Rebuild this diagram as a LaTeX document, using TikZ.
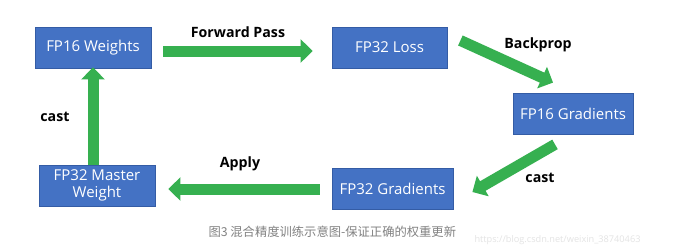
\documentclass[tikz,border=0pt]{standalone}
\usepackage{fontspec}
\setmainfont{Open Sans}
\newfontfamily\cjk{Noto Sans CJK SC}
\usetikzlibrary{positioning,arrows.meta}
\definecolor{Box}{RGB}{68,114,196}
\definecolor{BoxLine}{RGB}{52,92,165}
\definecolor{Arrow}{RGB}{54,176,80}
\definecolor{Note}{RGB}{130,130,130}
\definecolor{Mark}{RGB}{228,228,228}

\begin{document}
\begin{tikzpicture}[x=1pt,y=-1pt,
 b/.style={draw=BoxLine,line width=.8pt,fill=Box,text=white,minimum height=41pt,align=center,inner sep=0pt,font=\fontsize{15}{17}\selectfont},
 a/.style={-{Triangle[length=12pt,width=23pt]},line width=11pt,Arrow},
 l/.style={font=\fontsize{14.2}{16}\selectfont\bfseries}]
\useasboundingbox[fill=white] (0,0) rectangle (682,244);
% boxes
\node[b,minimum width=116pt] (w16) at (93,47.5) {FP16 Weights};
\node[b,minimum width=115pt] (loss) at (389.5,47.5) {FP32 Loss};
\node[b,minimum width=120pt] (g16) at (573,113.5) {FP16 Gradients};
\node[b,minimum width=121pt] (g32) at (392.5,188.5) {FP32 Gradients};
\node[b,minimum width=116pt] (master) at (97,185.5) {FP32 Master\\Weight};
% arrows
\draw[a] ([shift={(12,3.5)}]w16.east) -- ([shift={(-19,3.5)}]loss.west);
\draw[a] ([shift={(13,-7)}]loss.east) -- ([shift={(-20,-10)}]g16.north);
\draw[a] ([shift={(-18,10)}]g16.south) -- ([shift={(19,3.5)}]g32.east);
\draw[a] ([shift={(-12,0.5)}]g32.west) -- ([shift={(13,3.5)}]master.east);
\draw[a] (master.north -| w16.south) -- ([yshift=1]w16.south);
% labels
\node[l] (fwd) at (238,32) {Forward Pass};
\node[l] (bwd) at (538,45) {Backprop};
\node[l] (cast1) at (540,178) {cast};
\node[l] (apply) at (240,164) {Apply};
\node[l] (cast2) at (55,117) {cast};
% caption
\node[Note,font=\cjk\fontsize{12.3}{14}\selectfont,anchor=west] (cap) at (205,232) {图3 混合精度训练示意图-保证正确的权重更新};
\node[Mark,font=\fontsize{9.2}{11}\selectfont,anchor=west] (url) at (471,240) {https://blog.csdn.net/weixin\_38740463};
\end{tikzpicture}
\end{document}
